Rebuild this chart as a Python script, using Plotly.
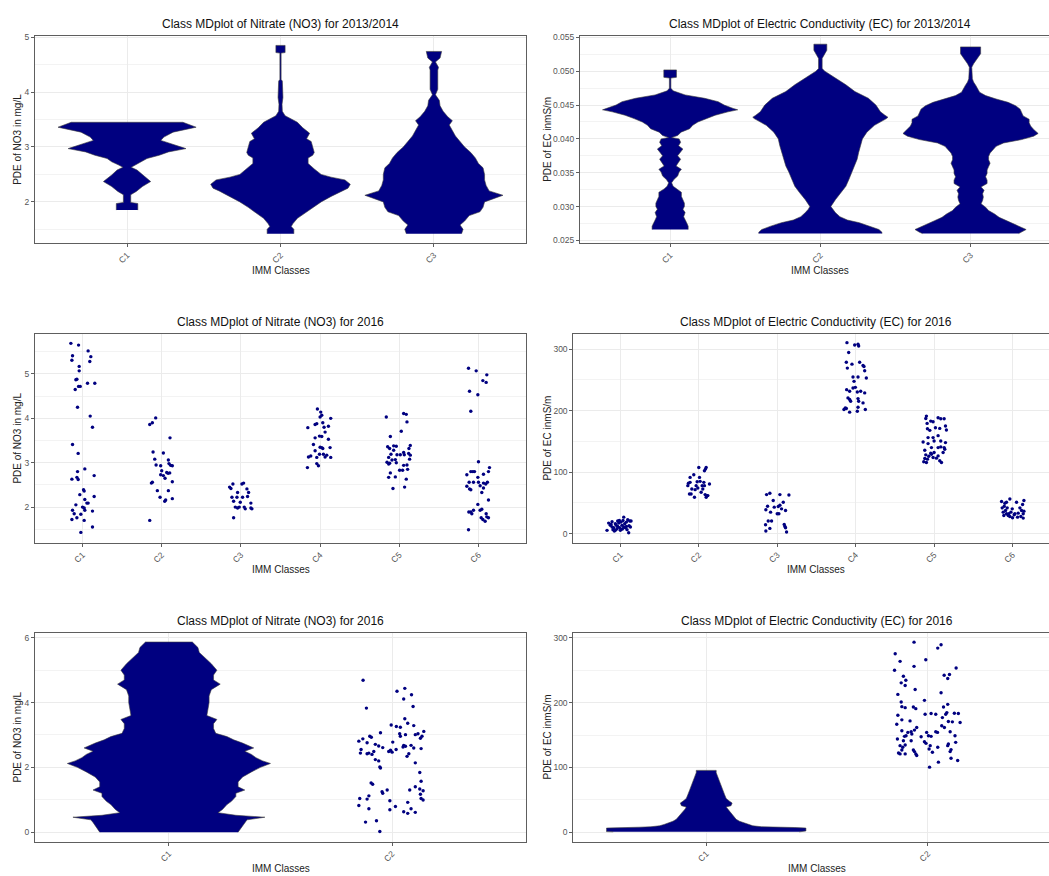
import plotly.graph_objects as go

FIG_W, FIG_H = 1049, 876
NAVY = "#000080"
FONT = "Liberation Sans, Arial, sans-serif"

# ---------------- Nitrate (NO3) 2013/2014: mirrored density profiles ----------------
# value (mg/L) and half-width of the mirrored density (in class units)
no3_1314_c1_val = [1.85, 1.97, 1.99, 2.13, 2.19, 2.28, 2.37, 2.49, 2.58, 2.63, 2.67,
                   2.73, 2.79, 2.85, 2.91, 2.97, 3.06, 3.12, 3.18, 3.27, 3.36, 3.45]
no3_1314_c1_wid = [0.07, 0.07, 0.024, 0.024, 0.06, 0.10, 0.154, 0.10, 0.065, 0.027, 0.054,
                   0.10, 0.13, 0.21, 0.27, 0.384, 0.28, 0.22, 0.24, 0.30, 0.45, 0.364]
no3_1314_c2_val = [1.42, 1.50, 1.55, 1.60, 1.70, 1.80, 1.90, 2.00, 2.10, 2.20, 2.25, 2.32,
                   2.40, 2.45, 2.50, 2.60, 2.70, 2.80, 2.85, 2.90, 3.00, 3.10, 3.15, 3.25,
                   3.35, 3.45, 3.51, 3.57, 3.65, 3.78, 3.90, 4.05, 4.20, 4.23, 4.71, 4.72, 4.85]
no3_1314_c2_wid = [0.087, 0.087, 0.07, 0.08, 0.11, 0.16, 0.21, 0.265, 0.33, 0.40, 0.44, 0.455,
                   0.42, 0.33, 0.265, 0.22, 0.18, 0.18, 0.21, 0.22, 0.21, 0.20, 0.17, 0.19,
                   0.145, 0.11, 0.07, 0.03, 0.012, 0.01, 0.016, 0.016, 0.012, 0.004, 0.004, 0.03, 0.03]
no3_1314_c3_val = [1.42, 1.50, 1.58, 1.65, 1.75, 1.82, 1.90, 2.00, 2.05, 2.12, 2.20, 2.30,
                   2.40, 2.50, 2.62, 2.70, 2.80, 2.90, 3.00, 3.10, 3.20, 3.30, 3.40, 3.48,
                   3.55, 3.65, 3.75, 3.85, 3.95, 4.05, 4.40, 4.45, 4.55, 4.62, 4.74]
no3_1314_c3_wid = [0.18, 0.19, 0.17, 0.20, 0.23, 0.30, 0.32, 0.33, 0.38, 0.45, 0.36, 0.34,
                   0.33, 0.33, 0.32, 0.29, 0.27, 0.24, 0.20, 0.17, 0.14, 0.12, 0.10, 0.12,
                   0.09, 0.06, 0.04, 0.035, 0.01, 0.025, 0.025, 0.03, 0.01, 0.04, 0.05]

# ---------------- Electric conductivity (EC) 2013/2014: mirrored density profiles ----------------
ec_1314_c1_val = [0.0266, 0.0271, 0.0276, 0.0280, 0.0285, 0.0291, 0.0296, 0.0300, 0.0305, 0.0310,
                  0.0315, 0.0321, 0.0326, 0.0330, 0.0335, 0.0340, 0.0345, 0.0351, 0.0355, 0.0360,
                  0.0365, 0.0370, 0.0375, 0.0380, 0.0385, 0.0390, 0.0395, 0.0400, 0.0402, 0.0405,
                  0.0410, 0.0415, 0.0420, 0.0425, 0.0430, 0.0435, 0.0440, 0.0443, 0.0445, 0.0450,
                  0.0455, 0.0460, 0.0465, 0.0471, 0.0475, 0.0490, 0.0491, 0.0502]
ec_1314_c1_wid = [0.12, 0.12, 0.11, 0.10, 0.09, 0.10, 0.085, 0.095, 0.095, 0.085,
                  0.075, 0.075, 0.04, 0.02, 0.01, 0.025, 0.05, 0.06, 0.075, 0.04,
                  0.055, 0.07, 0.05, 0.07, 0.085, 0.056, 0.07, 0.06, 0.01, 0.05,
                  0.073, 0.13, 0.15, 0.185, 0.24, 0.30, 0.385, 0.45, 0.42, 0.36,
                  0.32, 0.23, 0.10, 0.02, 0.005, 0.005, 0.042, 0.042]
ec_1314_c2_val = [0.0260, 0.0262, 0.0266, 0.0271, 0.0276, 0.0280, 0.0285, 0.0291, 0.0296, 0.0300,
                  0.0310, 0.0321, 0.0330, 0.0340, 0.0351, 0.0360, 0.0370, 0.0380, 0.0390, 0.0400,
                  0.0410, 0.0420, 0.0430, 0.0432, 0.0435, 0.0440, 0.0450, 0.0460, 0.0470, 0.0480,
                  0.0490, 0.0500, 0.0504, 0.0519, 0.0526, 0.0531, 0.0540]
ec_1314_c2_wid = [0.41, 0.41, 0.39, 0.33, 0.26, 0.18, 0.13, 0.10, 0.08, 0.07,
                  0.10, 0.14, 0.17, 0.19, 0.21, 0.23, 0.245, 0.255, 0.27, 0.28,
                  0.31, 0.36, 0.44, 0.45, 0.43, 0.40, 0.37, 0.32, 0.23, 0.17,
                  0.10, 0.03, 0.012, 0.012, 0.03, 0.043, 0.043]
ec_1314_c3_val = [0.0260, 0.0262, 0.0266, 0.0269, 0.0274, 0.0279, 0.0284, 0.0289, 0.0294, 0.0299,
                  0.0304, 0.0309, 0.0314, 0.0319, 0.0324, 0.0329, 0.0334, 0.0339, 0.0344, 0.0349,
                  0.0354, 0.0359, 0.0364, 0.0369, 0.0374, 0.0379, 0.0384, 0.0389, 0.0394, 0.0399,
                  0.0404, 0.0408, 0.0414, 0.0419, 0.0424, 0.0429, 0.0434, 0.0439, 0.0444, 0.0449,
                  0.0454, 0.0459, 0.0464, 0.0469, 0.0474, 0.0479, 0.0484, 0.0489, 0.0506, 0.0511,
                  0.0526, 0.0536]
ec_1314_c3_wid = [0.32, 0.34, 0.37, 0.34, 0.29, 0.24, 0.19, 0.16, 0.12, 0.10,
                  0.07, 0.08, 0.085, 0.08, 0.09, 0.07, 0.11, 0.11, 0.10, 0.11,
                  0.11, 0.12, 0.13, 0.12, 0.12, 0.13, 0.15, 0.17, 0.22, 0.34,
                  0.42, 0.45, 0.42, 0.40, 0.39, 0.39, 0.35, 0.34, 0.33, 0.30,
                  0.25, 0.17, 0.10, 0.06, 0.05, 0.035, 0.02, 0.012, 0.008, 0.02,
                  0.067, 0.067]

# ---------------- Nitrate (NO3) 2016, six classes: (jitter offset, value) ----------------
no3_2016_6c_c1 = [(-0.147, 5.69), (-0.05, 5.65), (0.071, 5.52), (-0.126, 5.41), (0.105, 5.39),
                  (-0.134, 5.31), (-0.042, 5.17), (0.092, 5.28), (-0.042, 5.07), (-0.071, 4.88),
                  (-0.084, 4.87), (-0.05, 4.72), (-0.029, 4.72), (0.063, 4.79), (0.155, 4.79),
                  (-0.092, 4.65), (-0.063, 4.25), (0.097, 4.05), (0.126, 3.80), (-0.126, 3.41),
                  (-0.055, 3.21), (0.029, 2.86), (-0.063, 2.80), (-0.134, 2.63), (-0.071, 2.67),
                  (-0.055, 2.62), (0.147, 2.71), (0.021, 2.36), (0.013, 2.39), (-0.034, 2.28),
                  (0.147, 2.24), (-0.084, 2.05), (0.029, 2.17), (0.055, 2.09), (0.071, 2.09),
                  (0.0, 2.00), (0.021, 1.98), (0.029, 1.93), (-0.126, 1.93), (-0.105, 1.85),
                  (-0.071, 1.76), (-0.021, 1.84), (0.126, 1.91), (-0.134, 1.72), (0.021, 1.70),
                  (0.126, 1.55), (-0.021, 1.43)]
no3_2016_6c_c2 = [(-0.151, 3.86), (-0.118, 3.90), (-0.076, 4.01), (0.105, 3.56), (-0.109, 3.24),
                  (-0.088, 3.08), (0.021, 3.22), (0.084, 3.06), (0.092, 2.98), (-0.071, 2.95),
                  (-0.013, 2.93), (0.113, 2.94), (0.134, 2.93), (0.0, 2.82), (0.063, 2.78),
                  (-0.118, 2.56), (-0.13, 2.54), (-0.013, 2.73), (0.021, 2.71), (0.042, 2.65),
                  (0.08, 2.76), (0.101, 2.77), (0.134, 2.57), (-0.055, 2.37), (0.084, 2.37),
                  (-0.021, 2.22), (0.05, 2.16), (0.038, 2.13), (0.134, 2.19), (-0.151, 1.70)]
no3_2016_6c_c3 = [(-0.143, 2.45), (-0.126, 2.42), (-0.101, 2.52), (0.013, 2.52), (0.034, 2.54),
                  (-0.042, 2.33), (0.076, 2.41), (0.097, 2.33), (-0.113, 2.22), (-0.05, 2.22),
                  (0.021, 2.22), (0.084, 2.24), (-0.092, 2.13), (-0.008, 2.11), (0.126, 2.09),
                  (-0.071, 2.00), (-0.042, 1.98), (-0.021, 2.00), (0.042, 2.00), (0.126, 1.98),
                  (0.139, 1.96), (0.055, 1.96), (-0.092, 1.76)]
no3_2016_6c_c4 = [(-0.034, 4.21), (0.008, 4.14), (0.021, 4.07), (0.0, 4.03), (0.134, 4.00),
                  (-0.155, 3.79), (-0.063, 3.86), (-0.042, 3.88), (0.034, 3.90), (0.05, 3.80),
                  (0.105, 3.82), (0.063, 3.69), (-0.063, 3.56), (-0.008, 3.60), (0.021, 3.59),
                  (0.105, 3.53), (-0.084, 3.41), (0.0, 3.35), (0.021, 3.34), (0.034, 3.32),
                  (0.126, 3.34), (-0.147, 3.13), (-0.118, 3.15), (-0.063, 3.27), (-0.042, 3.12),
                  (0.063, 3.13), (0.084, 3.17), (0.134, 3.12), (-0.042, 2.98), (-0.021, 2.93),
                  (-0.16, 2.89), (-0.008, 3.19), (0.042, 3.19)]
no3_2016_6c_c5 = [(-0.164, 4.03), (0.055, 4.11), (0.088, 4.09), (0.097, 3.92), (-0.113, 3.59),
                  (0.025, 3.71), (-0.147, 3.36), (-0.122, 3.32), (-0.071, 3.38), (-0.038, 3.37),
                  (0.139, 3.39), (0.122, 3.32), (0.055, 3.23), (0.118, 3.21), (0.139, 3.17),
                  (-0.071, 3.28), (-0.134, 3.12), (-0.105, 3.19), (-0.029, 3.18), (0.013, 3.18),
                  (-0.155, 3.01), (-0.122, 2.99), (-0.092, 3.06), (-0.038, 3.00), (-0.134, 2.97),
                  (-0.05, 3.07), (0.063, 3.18), (0.13, 3.08), (0.097, 2.95), (0.055, 2.94),
                  (-0.113, 2.77), (-0.134, 2.67), (-0.05, 2.68), (0.004, 2.83), (0.042, 2.83),
                  (0.105, 2.85), (-0.08, 2.42), (0.067, 2.45), (0.088, 2.63)]
no3_2016_6c_c6 = [(-0.126, 5.13), (-0.029, 5.07), (0.105, 4.98), (0.055, 4.85), (0.097, 4.81),
                  (-0.113, 4.61), (-0.008, 4.53), (-0.097, 4.16), (0.0, 3.02), (-0.097, 2.80),
                  (-0.071, 2.80), (-0.05, 2.80), (-0.147, 2.73), (-0.118, 2.56), (-0.063, 2.56),
                  (-0.008, 2.67), (0.0, 2.56), (-0.113, 2.41), (-0.097, 2.39), (0.021, 2.48),
                  (0.063, 2.54), (0.092, 2.52), (0.113, 2.56), (0.063, 2.74), (0.126, 2.80),
                  (0.139, 2.89), (-0.147, 2.47), (0.063, 2.43), (0.042, 2.33), (-0.008, 2.06),
                  (0.126, 2.16), (-0.122, 1.89), (-0.084, 1.85), (-0.063, 1.93), (0.021, 1.93),
                  (0.042, 1.95), (-0.097, 1.89), (0.097, 1.85), (-0.126, 1.49), (0.034, 1.76),
                  (0.055, 1.72), (0.105, 1.78), (0.126, 1.76), (0.084, 1.68)]

# ---------------- Electric conductivity (EC) 2016, six classes: (jitter offset, value) ----------------
ec_2016_6c_c1 = [(-0.17, 5.4), (-0.149, 17.2), (-0.119, 15.1), (-0.106, 10.8), (-0.094, 6.5),
                 (-0.077, 4.3), (-0.064, 16.2), (-0.051, 13.5), (-0.043, 8.1), (-0.034, 20.5),
                 (-0.021, 17.2), (-0.009, 9.7), (0.009, 18.8), (0.021, 13.5), (0.034, 21.5),
                 (0.043, 26.9), (0.055, 16.2), (0.064, 9.7), (0.077, 18.8), (0.085, 6.5),
                 (0.094, 22.6), (0.106, 1.6), (0.119, 20.5), (0.128, 10.8), (0.136, 20.5),
                 (-0.128, 13.5), (-0.085, 9.7), (-0.034, 11.8), (0.0, 5.4), (0.043, 10.8),
                 (0.077, 11.8), (0.111, 12.9), (-0.064, 5.4), (-0.013, 21.5), (-0.106, 19.4),
                 (0.026, 7.5)]
ec_2016_6c_c2 = [(-0.132, 81.9), (-0.14, 78.1), (-0.111, 83.5), (-0.064, 95.9), (-0.089, 72.7),
                 (-0.119, 64.6), (-0.098, 64.6), (-0.047, 71.6), (-0.034, 78.1), (-0.021, 84.5),
                 (-0.013, 74.3), (0.0, 107.7), (0.009, 91.5), (0.017, 85.1), (0.03, 67.3),
                 (0.043, 78.1), (0.064, 83.5), (0.072, 102.3), (0.085, 105.0), (0.094, 107.7),
                 (0.094, 59.2), (0.081, 63.5), (0.106, 61.9), (0.115, 61.9), (0.136, 80.8),
                 (0.072, 78.1), (-0.111, 91.5), (-0.055, 59.2), (0.051, 72.7)]
ec_2016_6c_c3 = [(-0.136, 63.5), (-0.094, 65.7), (-0.123, 44.7), (-0.145, 38.8), (-0.051, 53.9),
                 (-0.038, 43.1), (0.013, 44.2), (0.034, 46.3), (0.055, 40.4), (0.149, 63.0),
                 (0.034, 63.5), (-0.085, 35.0), (-0.072, 20.5), (-0.115, 20.5), (-0.149, 14.5),
                 (-0.094, 8.6), (-0.145, 4.3), (0.089, 15.1), (0.098, 11.8), (0.106, 9.7),
                 (0.119, 2.7), (0.021, 32.3), (0.106, 37.7), (0.077, 51.2), (0.0, 32.3)]
ec_2016_6c_c4 = [(-0.111, 310.7), (-0.013, 306.9), (0.03, 308.0), (0.038, 305.3), (-0.089, 294.6),
                 (-0.119, 278.9), (0.051, 278.9), (-0.106, 269.3), (-0.047, 275.7), (0.094, 273.6),
                 (0.106, 271.9), (0.115, 264.9), (-0.034, 254.7), (0.03, 254.7), (0.136, 253.1),
                 (-0.021, 247.7), (-0.115, 234.2), (-0.034, 236.9), (-0.004, 238.0), (-0.077, 231.6),
                 (0.021, 230.5), (0.064, 231.6), (0.115, 228.9), (-0.098, 220.8), (-0.077, 218.1),
                 (0.03, 219.7), (-0.064, 215.4), (0.094, 212.7), (-0.132, 204.6), (-0.149, 201.9),
                 (-0.119, 203.6), (-0.077, 197.6), (0.03, 205.7), (0.021, 199.2), (0.123, 201.9),
                 (0.038, 215.4)]
ec_2016_6c_c5 = [(-0.098, 191.2), (-0.106, 187.4), (-0.089, 179.3), (-0.043, 183.1), (-0.013, 182.0),
                 (0.051, 188.5), (0.085, 186.9), (0.128, 186.9), (-0.085, 170.7), (-0.055, 168.0),
                 (0.017, 172.3), (0.072, 171.2), (0.145, 175.0), (0.157, 168.6), (-0.077, 156.2),
                 (-0.013, 156.2), (0.051, 159.4), (0.0, 150.8), (-0.14, 149.2), (-0.077, 146.5),
                 (0.085, 150.8), (0.145, 148.1), (-0.034, 140.0), (0.051, 140.0), (0.085, 141.1),
                 (-0.119, 135.7), (-0.043, 130.9), (0.0, 131.9), (0.128, 140.0), (0.136, 137.3),
                 (0.115, 131.9), (-0.106, 128.2), (-0.068, 126.0), (-0.013, 123.9), (0.051, 126.5),
                 (-0.119, 122.2), (-0.132, 116.9), (-0.098, 115.8), (0.072, 118.5), (0.094, 115.8),
                 (-0.085, 121.2), (0.03, 122.8), (-0.034, 129.2)]
ec_2016_6c_c6 = [(-0.14, 52.2), (-0.098, 49.5), (-0.106, 44.7), (-0.077, 51.2), (-0.034, 56.5),
                 (0.051, 51.2), (0.128, 47.4), (0.145, 53.9), (-0.132, 42.0), (-0.089, 37.7),
                 (-0.021, 35.0), (-0.055, 29.6), (0.03, 32.3), (0.072, 33.4), (0.115, 37.7),
                 (0.145, 36.6), (-0.119, 35.0), (-0.077, 32.3), (-0.034, 28.0), (0.0, 25.8),
                 (0.064, 26.9), (0.106, 28.0), (0.136, 25.3), (-0.111, 29.6), (-0.068, 42.0),
                 (-0.004, 40.4), (0.094, 42.0), (-0.047, 32.3), (0.021, 30.7), (0.136, 32.3)]

# ---------------- Nitrate (NO3) 2016, two classes ----------------
no3_2016_2c_c1_val = [0.0, 0.1, 0.2, 0.3, 0.38, 0.46, 0.52, 0.6, 0.7, 0.85, 0.95, 1.1, 1.2,
                      1.3, 1.4, 1.55, 1.7, 1.86, 2.0, 2.12, 2.2, 2.3, 2.4, 2.5, 2.6, 2.75,
                      2.85, 2.95, 3.05, 3.2, 3.35, 3.48, 3.6, 3.8, 4.0, 4.2, 4.4, 4.57, 4.7,
                      4.85, 5.0, 5.2, 5.4, 5.55, 5.7, 5.8, 5.87]
no3_2016_2c_c1_wid = [0.31, 0.32, 0.33, 0.34, 0.35, 0.43, 0.30, 0.22, 0.24, 0.26, 0.28, 0.30, 0.30,
                      0.34, 0.31, 0.31, 0.33, 0.37, 0.41, 0.455, 0.42, 0.39, 0.37, 0.34, 0.38, 0.33,
                      0.29, 0.26, 0.21, 0.20, 0.20, 0.215, 0.17, 0.175, 0.18, 0.18, 0.19, 0.23, 0.20,
                      0.20, 0.215, 0.19, 0.16, 0.136, 0.13, 0.115, 0.105]
no3_2016_2c_c2 = [(-0.13, 4.69), (-0.115, 3.83), (0.022, 4.35), (0.057, 4.44), (0.087, 4.24),
                  (0.052, 4.11), (0.094, 3.88), (0.057, 3.50), (-0.004, 3.31), (0.019, 3.26),
                  (0.037, 3.24), (0.07, 3.36), (0.097, 3.29), (-0.052, 3.07), (0.034, 3.04),
                  (0.06, 3.01), (0.037, 2.96), (0.104, 3.01), (0.116, 3.04), (0.134, 2.96),
                  (0.142, 3.11), (0.127, 2.90), (-0.149, 2.81), (-0.131, 2.88), (-0.10, 2.96),
                  (-0.093, 2.93), (-0.112, 2.76), (-0.075, 2.71), (-0.06, 2.66), (-0.042, 2.61),
                  (-0.082, 2.49), (-0.09, 2.40), (-0.139, 2.55), (-0.142, 2.44), (-0.112, 2.42),
                  (-0.104, 2.44), (-0.007, 2.53), (0.0, 2.47), (-0.015, 2.49), (0.018, 2.55),
                  (0.003, 2.78), (0.052, 2.68), (0.06, 2.65), (0.049, 2.63), (0.085, 2.68),
                  (0.097, 2.60), (0.075, 2.42), (0.067, 2.34), (0.13, 2.58), (0.104, 2.14),
                  (-0.075, 2.24), (-0.06, 2.20), (-0.055, 2.01), (-0.052, 1.98), (0.124, 1.84),
                  (0.13, 1.57), (-0.094, 1.52), (-0.087, 1.48), (-0.022, 1.30), (-0.045, 1.25),
                  (-0.042, 1.20), (0.079, 1.30), (0.124, 1.33), (0.104, 1.40), (0.139, 1.28),
                  (-0.145, 1.04), (-0.112, 1.02), (-0.104, 1.12), (0.127, 1.17), (0.13, 1.04),
                  (0.139, 0.99), (-0.01, 0.97), (0.07, 0.92), (-0.149, 0.82), (-0.104, 0.72),
                  (-0.01, 0.69), (0.015, 0.79), (0.052, 0.63), (0.07, 0.58), (0.085, 0.72),
                  (0.104, 0.61), (-0.119, 0.31), (-0.07, 0.35), (-0.055, 0.02)]

# ---------------- Electric conductivity (EC) 2016, two classes ----------------
ec_2016_2c_c1_val = [0.6, 1.0, 2.0, 4.0, 6.5, 7.3, 7.8, 8.5, 10, 12, 14, 17, 20, 24, 28, 32,
                     36, 39, 41, 45, 48, 52, 58, 65, 72, 80, 87, 92, 95.5]
ec_2016_2c_c1_wid = [0.42, 0.45, 0.45, 0.45, 0.45, 0.40, 0.30, 0.25, 0.21, 0.19, 0.17, 0.15,
                     0.135, 0.125, 0.115, 0.105, 0.095, 0.09, 0.112, 0.117, 0.105, 0.09, 0.083,
                     0.075, 0.066, 0.06, 0.05, 0.045, 0.045]
ec_2016_2c_c2 = [(-0.062, 293.4), (0.06, 289.3), (0.045, 284.2), (-0.147, 275.5), (-0.125, 263.8),
                 (-0.009, 266.3), (-0.062, 256.1), (0.128, 253.6), (-0.15, 250.0), (-0.11, 240.8),
                 (-0.099, 234.7), (-0.12, 230.6), (-0.102, 226.5), (0.074, 242.3), (0.09, 237.2),
                 (0.098, 243.4), (-0.057, 220.4), (-0.135, 212.8), (0.06, 215.3), (-0.015, 203.6),
                 (-0.12, 201.0), (-0.117, 193.9), (-0.102, 192.3), (-0.065, 193.4), (-0.054, 190.8),
                 (0.071, 193.4), (0.09, 197.4), (-0.135, 180.6), (-0.012, 182.1), (0.015, 183.2),
                 (0.036, 182.1), (0.081, 182.1), (0.086, 184.7), (0.12, 183.7), (0.138, 183.2),
                 (-0.117, 173.5), (-0.08, 171.9), (0.066, 177.0), (0.093, 170.9), (0.111, 170.4),
                 (0.146, 169.4), (-0.14, 166.8), (0.063, 164.3), (0.075, 161.7), (-0.05, 161.7),
                 (-0.06, 157.7), (-0.117, 156.6), (-0.075, 155.1), (-0.072, 151.5), (-0.09, 154.1),
                 (-0.005, 154.1), (0.044, 154.1), (0.036, 155.1), (0.101, 155.1), (-0.105, 148.0),
                 (-0.098, 149.0), (-0.03, 147.4), (0.003, 149.0), (0.015, 148.0), (0.123, 149.0),
                 (-0.137, 143.9), (-0.075, 141.3), (-0.11, 141.3), (-0.015, 139.8), (-0.008, 137.2),
                 (0.093, 136.2), (0.09, 133.7), (0.126, 138.8), (-0.125, 133.7), (-0.102, 134.7),
                 (0.011, 133.7), (0.045, 131.1), (-0.113, 131.1), (-0.117, 127.0), (-0.065, 127.0),
                 (-0.06, 124.5), (0.006, 128.6), (0.105, 127.6), (-0.132, 122.4), (-0.125, 120.9),
                 (-0.102, 120.9), (-0.054, 120.9), (-0.05, 118.4), (0.021, 123.5), (0.101, 124.5),
                 (0.105, 114.3), (0.135, 110.7), (0.048, 108.2), (0.008, 100.5)]

# ---------------- panel set-up ----------------
# box = (left, top, right, bottom) of each plotting area in pixels; the right-hand
# column runs past the page edge, so its right side is cut at the figure border.
# ytx = horizontal pixel centre of the y-axis title.
panels = [
    dict(box=(35, 32.3, 526, 240.7), ytx=17.3, classes=["C1", "C2", "C3"], yrange=[1.25, 5.02],
         dtick=1, minor=0.5, fmt="", ytitle="PDE of NO3 in mg/L",
         title="Class MDplot of Nitrate (NO3) for 2013/2014",
         marks=[("md", 1, no3_1314_c1_val, no3_1314_c1_wid),
                ("md", 2, no3_1314_c2_val, no3_1314_c2_wid),
                ("md", 3, no3_1314_c3_val, no3_1314_c3_wid)]),
    dict(box=(580, 32.3, 1060.7, 240.7), ytx=547.3, classes=["C1", "C2", "C3"],
         yrange=[0.0246, 0.0552], dtick=0.005, minor=0.0025, fmt=".3f",
         ytitle="PDE of EC inmS/m",
         title="Class MDplot of Electric Conductivity (EC) for 2013/2014",
         marks=[("md", 1, ec_1314_c1_val, ec_1314_c1_wid),
                ("md", 2, ec_1314_c2_val, ec_1314_c2_wid),
                ("md", 3, ec_1314_c3_val, ec_1314_c3_wid)]),
    dict(box=(35, 332.3, 526, 542.3), ytx=17.3, classes=["C1", "C2", "C3", "C4", "C5", "C6"],
         yrange=[1.2, 5.9], dtick=1, minor=0.5, fmt="", ytitle="PDE of NO3 in mg/L",
         title="Class MDplot of Nitrate (NO3) for 2016",
         marks=[("pts", 1, no3_2016_6c_c1), ("pts", 2, no3_2016_6c_c2), ("pts", 3, no3_2016_6c_c3),
                ("pts", 4, no3_2016_6c_c4), ("pts", 5, no3_2016_6c_c5), ("pts", 6, no3_2016_6c_c6)]),
    dict(box=(573.3, 332.3, 1059.6, 542.3), ytx=547.3,
         classes=["C1", "C2", "C3", "C4", "C5", "C6"],
         yrange=[-14.5, 324.7], dtick=100, minor=50, fmt="", ytitle="PDE of EC inmS/m",
         title="Class MDplot of Electric Conductivity (EC) for 2016",
         marks=[("pts", 1, ec_2016_6c_c1), ("pts", 2, ec_2016_6c_c2), ("pts", 3, ec_2016_6c_c3),
                ("pts", 4, ec_2016_6c_c4), ("pts", 5, ec_2016_6c_c5), ("pts", 6, ec_2016_6c_c6)]),
    dict(box=(35, 633.3, 526, 843.3), ytx=17.3, classes=["C1", "C2"], yrange=[-0.29, 6.15],
         dtick=2, minor=1, fmt="", ytitle="PDE of NO3 in mg/L",
         title="Class MDplot of Nitrate (NO3) for 2016",
         marks=[("md", 1, no3_2016_2c_c1_val, no3_2016_2c_c1_wid), ("pts", 2, no3_2016_2c_c2)]),
    dict(box=(573.3, 633.3, 1060.7, 843.3), ytx=547.3, classes=["C1", "C2"],
         yrange=[-14.3, 307.6], dtick=100, minor=50, fmt="", ytitle="PDE of EC inmS/m",
         title="Class MDplot of Electric Conductivity (EC) for 2016",
         marks=[("md", 1, ec_2016_2c_c1_val, ec_2016_2c_c1_wid), ("pts", 2, ec_2016_2c_c2)]),
]

GRID = "#EBEBEB"
BORDER = "#5E5E5E"
TICKTXT = "#555555"

fig = go.Figure()
annotations = []
layout = {}

for i, p in enumerate(panels, start=1):
    sfx = "" if i == 1 else str(i)
    xref, yref = "x" + sfx, "y" + sfx
    left, top, right, bottom = p["box"]
    n = len(p["classes"])
    vis_right = min(right, FIG_W)
    span = n + 0.2
    xmax = 0.4 + (vis_right - left) / (right - left) * span

    for mark in p["marks"]:
        if mark[0] == "md":
            _, c, vals, wids = mark
            xs = [c + w for w in wids] + [c - w for w in reversed(wids)]
            ys = list(vals) + list(reversed(vals))
            fig.add_trace(go.Scatter(
                x=xs, y=ys, mode="lines", fill="toself", fillcolor=NAVY,
                line=dict(color="#3C3C3C", width=0.6), hoverinfo="skip",
                xaxis=xref, yaxis=yref, showlegend=False))
        else:
            _, c, pts = mark
            fig.add_trace(go.Scatter(
                x=[c + d for d, _ in pts], y=[v for _, v in pts], mode="markers",
                marker=dict(color=NAVY, size=3.4, line=dict(width=0)),
                xaxis=xref, yaxis=yref, showlegend=False, cliponaxis=False))

    layout["xaxis" + sfx] = dict(
        domain=[left / FIG_W, vis_right / FIG_W], range=[0.4, xmax], anchor=yref,
        tickmode="array", tickvals=list(range(1, n + 1)), ticktext=p["classes"],
        tickangle=-45, tickfont=dict(family=FONT, size=8.5, color=TICKTXT),
        showgrid=True, gridcolor=GRID, gridwidth=1, zeroline=False,
        showline=True, mirror=True, linecolor=BORDER, linewidth=1,
        ticks="outside", ticklen=3, tickcolor=BORDER, tickwidth=1, fixedrange=True)
    layout["yaxis" + sfx] = dict(
        domain=[1 - bottom / FIG_H, 1 - top / FIG_H], range=p["yrange"], anchor=xref,
        tickmode="linear", tick0=0, dtick=p["dtick"], tickformat=p["fmt"],
        tickfont=dict(family=FONT, size=8.5, color=TICKTXT),
        showgrid=True, gridcolor=GRID, gridwidth=1, zeroline=False,
        minor=dict(dtick=p["minor"], tick0=0, showgrid=True, gridcolor="#F3F3F3", gridwidth=0.6),
        showline=True, mirror=(right <= FIG_W), linecolor=BORDER, linewidth=1,
        ticks="outside", ticklen=3, tickcolor=BORDER, tickwidth=1, fixedrange=True)

    cx = (left + right) / 2 / FIG_W
    annotations.append(dict(
        text=p["title"], x=cx, y=1 - (top - 12.5) / FIG_H, xref="paper", yref="paper",
        xanchor="center", yanchor="middle", showarrow=False,
        font=dict(family=FONT, size=12, color="#111111")))
    annotations.append(dict(
        text="IMM Classes", x=cx, y=1 - (bottom + 27.5) / FIG_H, xref="paper", yref="paper",
        xanchor="center", yanchor="middle", showarrow=False,
        font=dict(family=FONT, size=10, color="#222222")))
    annotations.append(dict(
        text=p["ytitle"], x=p["ytx"] / FIG_W, y=1 - (top + bottom) / 2 / FIG_H,
        xref="paper", yref="paper", xanchor="center", yanchor="middle", textangle=-90,
        showarrow=False, font=dict(family=FONT, size=10, color="#222222")))

fig.update_layout(
    width=FIG_W, height=FIG_H, margin=dict(l=0, r=0, t=0, b=0),
    paper_bgcolor="white", plot_bgcolor="white", showlegend=False,
    annotations=annotations, **layout)

fig.write_html("out.html")
